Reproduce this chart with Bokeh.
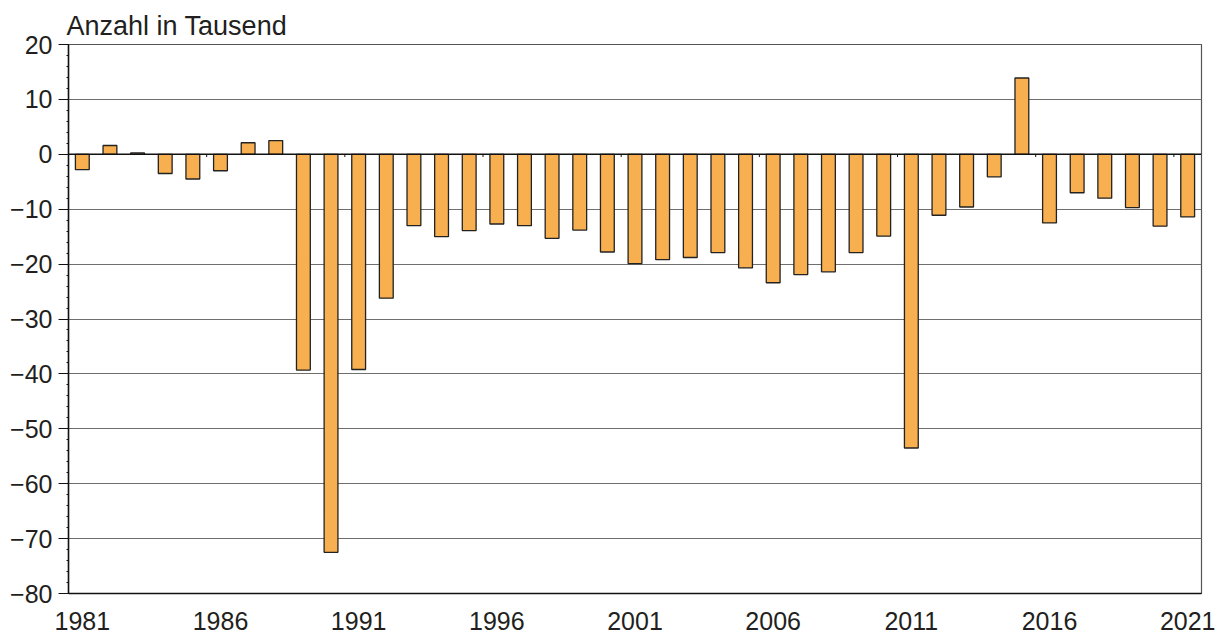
from bokeh.plotting import figure
from bokeh.models import FixedTicker, Span, Range1d, ColumnDataSource
from bokeh.embed import file_html
from bokeh.resources import INLINE

years = list(range(1981, 2022))
values = [-2.8, 1.6, 0.25, -3.5, -4.5, -3.0, 2.1, 2.5, -39.3, -72.5,
          -39.2, -26.2, -13.0, -15.0, -13.9, -12.7, -13.0, -15.3, -13.8, -17.8,
          -19.9, -19.2, -18.8, -17.9, -20.7, -23.4, -21.9, -21.4, -17.9, -14.9,
          -53.5, -11.1, -9.6, -4.1, 13.9, -12.5, -7.0, -8.0, -9.7, -13.1,
          -11.4]
x_ticks = [1981, 1986, 1991, 1996, 2001, 2006, 2011, 2016, 2021]
y_ticks = [-80, -70, -60, -50, -40, -30, -20, -10, 0, 10, 20]
title_text = "Anzahl in Tausend"

FONT = "Liberation Sans"
TXT = "#231f20"

p = figure(frame_width=1133, frame_height=549, output_backend="svg",
           toolbar_location=None, x_range=Range1d(1980.5, 2021.5),
           y_range=Range1d(-80, 20), min_border_left=68, min_border_right=14,
           min_border_top=44, min_border_bottom=42)
p.background_fill_color = "white"
p.border_fill_color = "white"
p.outline_line_color = "#555555"
p.outline_line_width = 1.2

p.title.text = title_text
p.title.align = "left"
p.title.text_font = FONT
p.title.text_font_size = "27px"
p.title.text_font_style = "normal"
p.title.text_color = TXT
p.title.standoff = 8
p.title.offset = -2

src = ColumnDataSource(dict(x=years, top=values))
p.vbar(x="x", top="top", bottom=0, width=0.5, source=src,
       fill_color="#F8AF4F", line_color="#222222", line_width=1.3)

zero = Span(location=0, dimension="width", line_color="#111111", line_width=1.6)
p.add_layout(zero)

tick_pos = [y + 4.5 for y in x_ticks[:-1]]
p.segment(x0=tick_pos, x1=tick_pos, y0=[0] * len(tick_pos), y1=[-0.5] * len(tick_pos),
          line_color="#111111", line_width=1)

# y axis
p.yaxis.ticker = FixedTicker(ticks=y_ticks, minor_ticks=list(range(-80, 21, 2)))
p.yaxis.major_label_overrides = {v: str(v).replace("-", "\u2212") for v in y_ticks}
p.yaxis.major_label_text_font = FONT
p.yaxis.major_label_text_font_size = "25px"
p.yaxis.major_label_text_color = TXT
p.yaxis.major_tick_out = 10
p.yaxis.major_tick_in = 0
p.yaxis.minor_tick_out = 2
p.yaxis.minor_tick_in = 0
p.yaxis.major_label_standoff = 6
p.yaxis.axis_line_color = "#111111"
p.yaxis.axis_line_width = 1.5
p.yaxis.major_tick_line_color = "#111111"
p.yaxis.minor_tick_line_color = "#111111"

# x axis
p.xaxis.ticker = FixedTicker(ticks=x_ticks, minor_ticks=[])
p.xaxis.major_label_text_font = FONT
p.xaxis.major_label_text_font_size = "25px"
p.xaxis.major_label_text_color = TXT
p.xaxis.major_tick_out = 0
p.xaxis.major_tick_in = 0
p.xaxis.minor_tick_out = 0
p.xaxis.minor_tick_in = 0
p.xaxis.major_label_standoff = 18
p.xaxis.axis_line_color = "#111111"
p.xaxis.axis_line_width = 1.5

p.xgrid.visible = False
p.ygrid.ticker = FixedTicker(ticks=y_ticks)
p.ygrid.grid_line_color = "#6f6f6f"
p.ygrid.grid_line_width = 1.2

open("out.html", "w").write(file_html(p, INLINE))
